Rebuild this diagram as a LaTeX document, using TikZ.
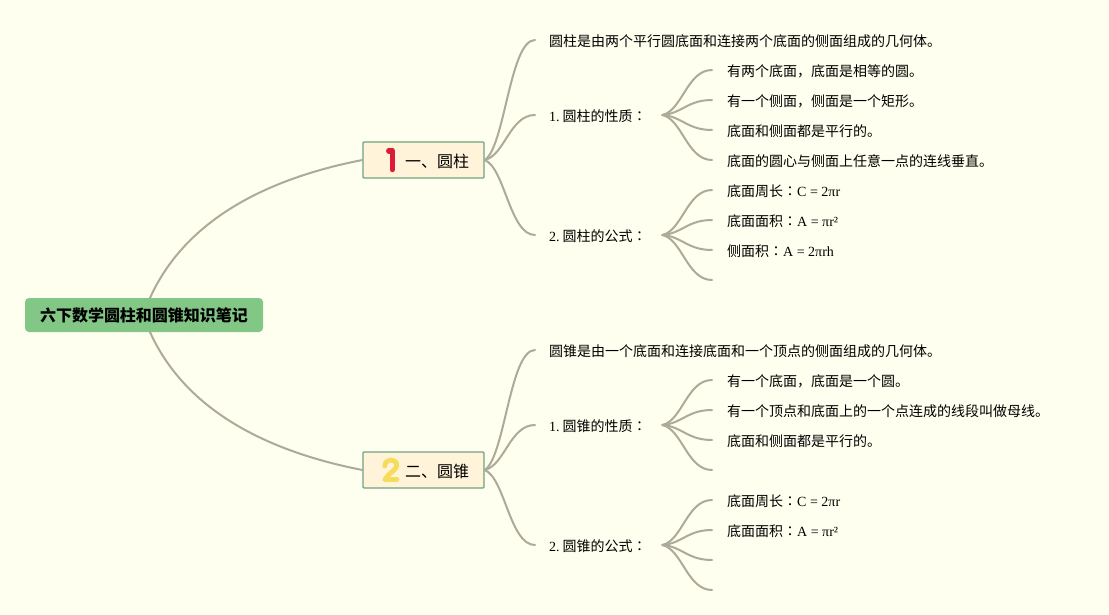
\documentclass[tikz,border=0pt]{standalone}
\usepackage{fontspec}
\setmainfont{Liberation Serif}
\newfontfamily\cjk{Noto Sans CJK SC}
\newfontfamily\cjktc{Noto Sans CJK TC}
\usetikzlibrary{calc}
\definecolor{bgc}{HTML}{FFFFF0}
\definecolor{linec}{HTML}{ADAB97}
\definecolor{rootc}{HTML}{82C785}
\definecolor{topicc}{HTML}{FFF3D9}
\definecolor{topicb}{HTML}{6FA283}
\definecolor{redc}{HTML}{DE1B36}
\definecolor{yelc}{HTML}{F5DC5A}
\newcommand{\cn}[1]{{\cjk #1}}
\newcommand{\cc}{{\cjktc ：}}
\newcommand{\sq}[2]{\draw[conn] (#1) .. controls ($(#1)!0.4!(#1 -| #2)!0.1!($(#2)!0.6!(#2 -| #1)$)$) and ($(#2)!0.5!(#2 -| #1)$) .. (#2);}
\tikzset{
  x=1pt,y=-1pt,
  conn/.style={draw=linec,line width=2pt,line cap=round},
  rootbox/.style={fill=rootc,rounded corners=4pt,minimum width=238pt,minimum height=34pt,inner sep=0pt,font=\fontsize{16}{18}\selectfont\cjk\bfseries},
  topicbox/.style={fill=topicc,draw=topicb,line width=1.2pt,rounded corners=1pt,minimum width=121pt,minimum height=36pt,inner sep=0pt,font=\fontsize{16}{18}\selectfont\cjk},
  branch/.style={anchor=west,inner ysep=0pt,inner xsep=14pt,text height=12.5pt,text depth=0pt,font=\fontsize{14}{16}\selectfont},
  leaf/.style={anchor=west,inner ysep=0pt,inner xsep=15pt,text height=12.5pt,text depth=0pt,font=\fontsize{14}{16}\selectfont},
  icon/.style={line cap=round,line join=round},
}
\begin{document}
\begin{tikzpicture}
\useasboundingbox[fill=bgc] (0,0) rectangle (1109,615);
% free ends
\coordinate (e1) at (712,280);
\coordinate (e2) at (712,470);
\coordinate (e3) at (712,560);
\coordinate (e4) at (712,590);
\coordinate (rt) at (150,298);
\coordinate (rb) at (150,332);
% nodes
\node[rootbox] (root) at (144,315) {六下数学圆柱和圆锥知识笔记};
\node[topicbox] (t1) at (423.5,160) {};
\node[topicbox] (t2) at (423.5,470) {};
\node[anchor=west,inner sep=0pt,font=\fontsize{16}{18}\selectfont\cjk] (t1l) at (405,161) {一、圆柱};
\node[anchor=west,inner sep=0pt,font=\fontsize{16}{18}\selectfont\cjk] (t2l) at (405,471) {二、圆锥};

\node[leaf,inner xsep=14pt] (a0) at (535,40) {\cn{圆柱是由两个平行圆底面和连接两个底面的侧面组成的几何体。}};
\node[branch] (a1) at (535,115) {\makebox[99pt][l]{1.\kern3pt\cn{圆柱的性质}\cc}};
\node[branch] (a2) at (535,235) {\makebox[99pt][l]{2.\kern3pt\cn{圆柱的公式}\cc}};
\node[leaf] (a11) at (712,70) {\cn{有两个底面，底面是相等的圆。}};
\node[leaf] (a12) at (712,100) {\cn{有一个侧面，侧面是一个矩形。}};
\node[leaf] (a13) at (712,130) {\cn{底面和侧面都是平行的。}};
\node[leaf] (a14) at (712,160) {\cn{底面的圆心与侧面上任意一点的连线垂直。}};
\node[leaf] (a21) at (712,190) {\cn{底面周长}\cc C = 2πr};
\node[leaf] (a22) at (712,220) {\cn{底面面积}\cc A = πr²};
\node[leaf] (a23) at (712,250) {\cn{侧面积}\cc A = 2πrh};

\node[leaf,inner xsep=14pt] (b0) at (535,350) {\cn{圆锥是由一个底面和连接底面和一个顶点的侧面组成的几何体。}};
\node[branch] (b1) at (535,425) {\makebox[99pt][l]{1.\kern3pt\cn{圆锥的性质}\cc}};
\node[branch] (b2) at (535,545) {\makebox[99pt][l]{2.\kern3pt\cn{圆锥的公式}\cc}};
\node[leaf] (b11) at (712,380) {\cn{有一个底面，底面是一个圆。}};
\node[leaf] (b12) at (712,410) {\cn{有一个顶点和底面上的一个点连成的线段叫做母线。}};
\node[leaf] (b13) at (712,440) {\cn{底面和侧面都是平行的。}};
\node[leaf] (b21) at (712,500) {\cn{底面周长}\cc C = 2πr};
\node[leaf] (b22) at (712,530) {\cn{底面面积}\cc A = πr²};
% connectors
\draw[conn] (rt) .. controls (186,218) and (270,178) .. (t1.west);
\draw[conn] (rb) .. controls (186,412) and (270,452) .. (t2.west);
\sq{t1.east}{a0.west}
\sq{t1.east}{a1.west}
\sq{t1.east}{a2.west}
\sq{a1.east}{a11.west}
\sq{a1.east}{a12.west}
\sq{a1.east}{a13.west}
\sq{a1.east}{a14.west}
\sq{a2.east}{a21.west}
\sq{a2.east}{a22.west}
\sq{a2.east}{a23.west}
\sq{a2.east}{e1}
\sq{t2.east}{b0.west}
\sq{t2.east}{b1.west}
\sq{t2.east}{b2.west}
\sq{b1.east}{b11.west}
\sq{b1.east}{b12.west}
\sq{b1.east}{b13.west}
\sq{b1.east}{e2}
\sq{b2.east}{b21.west}
\sq{b2.east}{b22.west}
\sq{b2.east}{e3}
\sq{b2.east}{e4}
% icons
\draw[icon,draw=redc,line width=5.5pt] (388.8,150.8) -- (392.3,150.8) -- (392.3,169.5);
\draw[icon,draw=yelc,line width=4.8pt] (384.8,466) .. controls (385,458) and (396.8,458) .. (396.8,465.5) .. controls (396.8,470) and (388,473.5) .. (384.8,479.5) -- (397,479.5);
\end{tikzpicture}
\end{document}
